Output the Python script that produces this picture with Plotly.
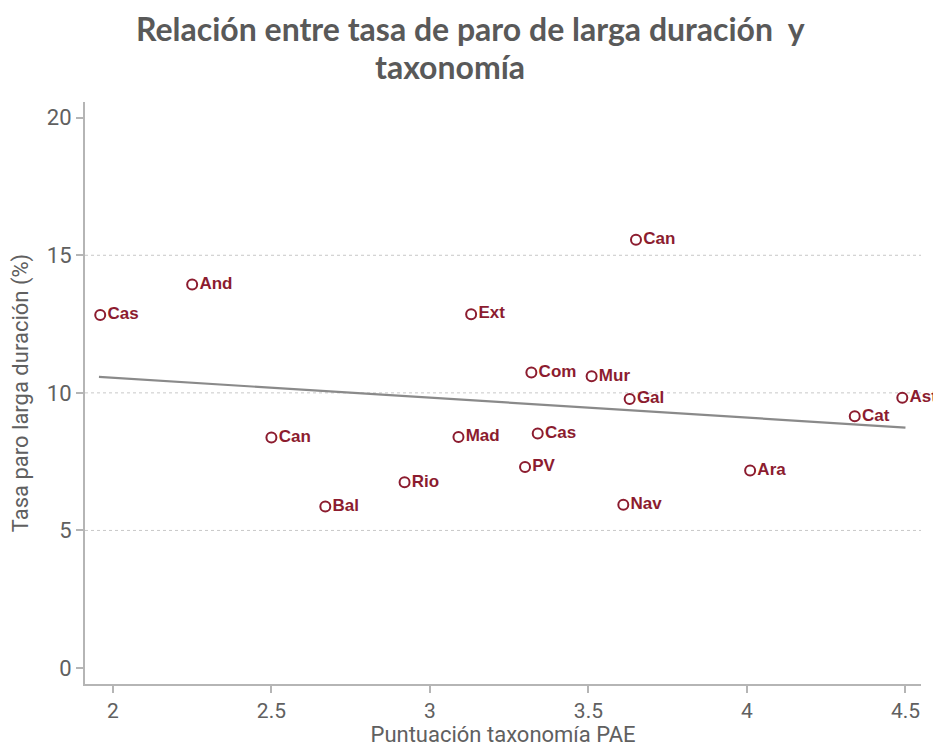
import plotly.graph_objects as go

# Data
regions = ["Cas", "And", "Can", "Ext", "Com", "Mur", "Gal", "Ast", "Cat", "Ara",
           "Nav", "Can", "Bal", "Mad", "Cas", "PV", "Rio"]
taxonomia = [1.96, 2.25, 3.65, 3.13, 3.32, 3.51, 3.63, 4.49, 4.34, 4.01,
             3.61, 2.50, 2.67, 3.09, 3.34, 3.30, 2.92]
paro_ld = [12.83, 13.94, 15.56, 12.86, 10.74, 10.60, 9.78, 9.82, 9.15, 7.18,
           5.93, 8.38, 5.87, 8.40, 8.52, 7.31, 6.75]

fit_x = [1.956, 4.50]
fit_y = [10.58, 8.74]

x_ticks = [2, 2.5, 3, 3.5, 4, 4.5]
x_tick_labels = ["2", "2.5", "3", "3.5", "4", "4.5"]
y_ticks = [0, 5, 10, 15, 20]
grid_y = [5, 10, 15]

title_lines = ["Relación entre tasa de paro de larga duración  y", "taxonomía"]

RED = "#8c1c2f"
GRAY = "#606060"
AXF = "Roboto, Liberation Sans, sans-serif"

fig = go.Figure()

fig.add_trace(go.Scatter(
    x=fit_x, y=fit_y, mode="lines",
    line=dict(color="#8a8a8a", width=2.2),
    hoverinfo="skip", showlegend=False))

fig.add_trace(go.Scatter(
    x=taxonomia, y=paro_ld, mode="markers+text",
    text=regions, textposition="middle right", cliponaxis=False,
    textfont=dict(family="Liberation Sans, Arial, sans-serif", size=17, color=RED, weight="bold"),
    marker=dict(symbol="circle-open", size=10, color=RED, line=dict(width=2, color=RED)),
    showlegend=False))

for g in grid_y:
    fig.add_shape(type="line", xref="paper", x0=0, x1=1, yref="y", y0=g, y1=g,
                  line=dict(color="#c8c8c8", width=1, dash="dot"), layer="below")

# Title (two centered lines)
for line, xpos, ypos in zip(title_lines, [0.4617, 0.4366], [1.126, 1.061]):
    fig.add_annotation(text=line, xref="paper", yref="paper", x=xpos, y=ypos,
                       xanchor="center", yanchor="middle", showarrow=False,
                       font=dict(family="Lato, Open Sans, sans-serif", size=32,
                                 color="#595959", weight="bold"))

fig.update_layout(
    width=933, height=739,
    margin=dict(l=77, r=20, t=94, b=63),
    paper_bgcolor="white", plot_bgcolor="white",
    xaxis=dict(
        range=[1.912, 4.549], tickvals=x_ticks, ticktext=x_tick_labels, automargin=False,
        showgrid=False, zeroline=False, showline=True, linecolor="#b5b5b5", linewidth=2,
        ticks="outside", ticklen=7, tickcolor="#b5b5b5", tickwidth=1.5,
        tickfont=dict(family=AXF, size=21, color=GRAY),
        title=dict(text="Puntuación taxonomía PAE", standoff=2,
                   font=dict(family=AXF, size=22, color=GRAY))),
    yaxis=dict(
        range=[-0.58, 20.57], tickvals=y_ticks, automargin=False,
        showgrid=False, zeroline=False, showline=True, linecolor="#b5b5b5", linewidth=2,
        ticks="outside", ticklen=7, tickcolor="#b5b5b5", tickwidth=1.5,
        tickfont=dict(family=AXF, size=22, color=GRAY),
        title=dict(text="Tasa paro larga duración (%)", standoff=14,
                   font=dict(family=AXF, size=22, color=GRAY))),
)

fig.write_html("out.html")
